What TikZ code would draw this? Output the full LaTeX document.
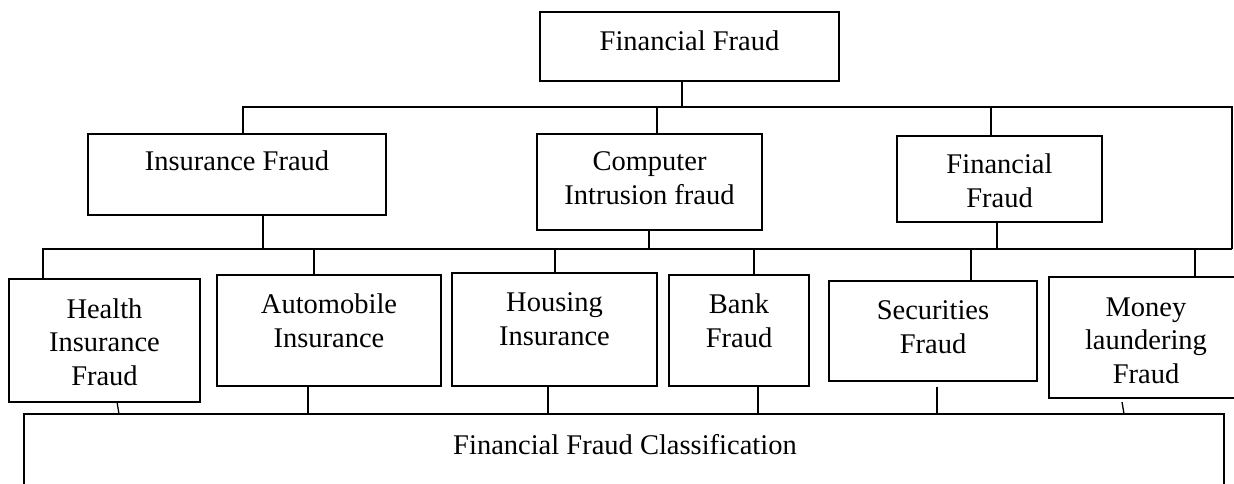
\documentclass[tikz,border=0pt]{standalone}
\usepackage{fontspec}
\setmainfont{Liberation Serif}
\tikzset{
  box/.style={draw, line width=1.3pt, rectangle, inner sep=0pt},
  txt/.style={inner sep=0pt, align=center, anchor=base, font=\fontsize{28.5}{33.5}\selectfont},
  conn/.style={line width=1.3pt}
}
\begin{document}
\begin{tikzpicture}[x=1pt, y=-1pt]
\useasboundingbox (0,0) rectangle (1234,484);
\clip (0,0) rectangle (1234,484);
% boxes
\node[box, minimum width=299pt, minimum height=69pt] (tf) at (689.5,46.5) {};
\node[box, minimum width=298pt, minimum height=81pt] (ins) at (237,174.5) {};
\node[box, minimum width=225pt, minimum height=96pt] (cmp) at (649.5,182) {};
\node[box, minimum width=205pt, minimum height=86pt] (fin) at (999.5,179) {};
\node[box, minimum width=191pt, minimum height=123pt] (hlt) at (104.5,340.5) {};
\node[box, minimum width=224pt, minimum height=111pt] (aut) at (329,330.5) {};
\node[box, minimum width=205pt, minimum height=113pt] (hou) at (554.5,329.5) {};
\node[box, minimum width=140pt, minimum height=111pt] (bnk) at (739,330.5) {};
\node[box, minimum width=208pt, minimum height=100pt] (sec) at (933,331) {};
\node[box, minimum width=194pt, minimum height=121pt] (mon) at (1146,337.5) {};
\node[box, minimum width=1200pt, minimum height=96pt] (cls) at (624,462) {};
% texts (base anchor = baseline of last line)
\node[txt] (tf-t) at (689.5,51) {Financial Fraud};
\node[txt] (ins-t) at (237,171) {Insurance Fraud};
\node[txt] (cmp-t) at (649.5,204) {Computer\\Intrusion fraud};
\node[txt] (fin-t) at (999.5,207) {Financial\\Fraud};
\node[txt] (hlt-t) at (104.5,385) {Health\\Insurance\\Fraud};
\node[txt] (aut-t) at (329,347) {Automobile\\Insurance};
\node[txt] (hou-t) at (554.5,345) {Housing\\Insurance};
\node[txt] (bnk-t) at (739,347) {Bank\\Fraud};
\node[txt] (sec-t) at (933,353) {Securities\\Fraud};
\node[txt] (mon-t) at (1146,383) {Money\\laundering\\Fraud};
\node[txt] (cls-t) at (625,454) {Financial Fraud Classification};
% bus coordinates
\coordinate (b1) at (682,107);
\coordinate (b1L) at (243,107);
\coordinate (b1R) at (1232,107);
\coordinate (b2R) at (1232,249);
\coordinate (b2L) at (43,249);
\coordinate (cmpT) at (657,107);
\coordinate (finT) at (991,107);
\coordinate (insB) at (263,249);
\coordinate (cmpB) at (649,249);
\coordinate (finB) at (997,249);
\coordinate (autT) at (314,249);
\coordinate (houT) at (555,249);
\coordinate (bnkT) at (754,249);
\coordinate (secT) at (971,249);
\coordinate (monT) at (1195,249);
\coordinate (autB) at (308,414);
\coordinate (houB) at (548,414);
\coordinate (bnkB) at (758,414);
\coordinate (secB) at (937,414);
\coordinate (hltB) at (119,414);
\coordinate (monB) at (1124,414);
% connectors
\draw[conn] (tf.south -| b1) -- (b1);
\draw[conn] (b1L |- ins.north) -- (b1L) -- (b1R) -- (b2R);
\draw[conn] (cmpT) -- (cmpT |- cmp.north);
\draw[conn] (finT) -- (finT |- fin.north);
\draw[conn] (insB |- ins.south) -- (insB);
\draw[conn] (cmpB |- cmp.south) -- (cmpB);
\draw[conn] (finB |- fin.south) -- (finB);
\draw[conn] (b2L |- hlt.north) -- (b2L) -- (b2R);
\draw[conn] (autT) -- (autT |- aut.north);
\draw[conn] (houT) -- (houT |- hou.north);
\draw[conn] (bnkT) -- (bnkT |- bnk.north);
\draw[conn] (secT) -- (secT |- sec.north);
\draw[conn] (monT) -- (monT |- mon.north);
\draw[conn] (autB |- aut.south) -- (autB);
\draw[conn] (houB |- hou.south) -- (houB);
\draw[conn] (bnkB |- bnk.south) -- (bnkB);
\draw[conn, shorten <=5pt] (secB |- sec.south) -- (secB);
\draw[conn] (hltB) -- ++(-2,-12);
\draw[conn] (monB) -- ++(-2,-12);
\end{tikzpicture}
\end{document}
